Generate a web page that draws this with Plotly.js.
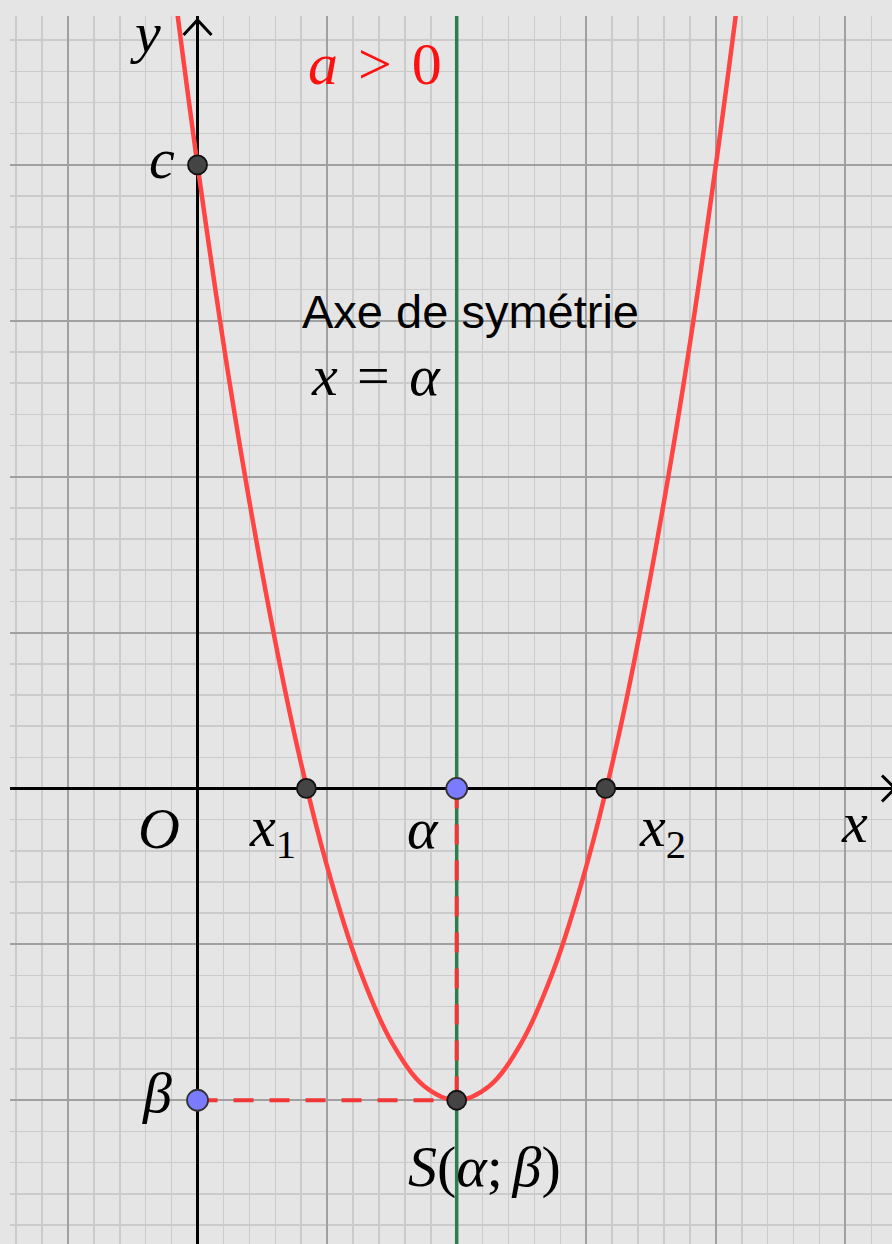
<!DOCTYPE html>
<html>
<head>
<meta charset="utf-8">
<script src="https://cdn.plot.ly/plotly-3.0.1.min.js"></script>
<style>
  html, body { margin: 0; padding: 0; background: #e5e5e5; }
  #graph { width: 892px; height: 1244px; }
</style>
</head>
<body>
<div id="graph"></div>
<script>
// Parabola points (a > 0, vertex S)
const curveX = [-0.2, 0, 0.25, 0.5, 0.75, 1, 1.25, 1.5, 1.75, 2, 2.25, 2.5, 2.75, 3, 3.25, 3.5, 3.75, 4, 4.2];
const curveY = [5.26, 4, 2.59, 1.38, 0.34, -0.5, -1.16, -1.63, -1.91, -2, -1.91, -1.63, -1.16, -0.5, 0.34, 1.38, 2.59, 4, 5.26];

// Key values
const alpha = 2;
const beta = -2;
const c = 4;
const roots = [0.84, 3.15];

// Visible window of the grid
const xRange = [-1.447, 5.359];
const yRange = [-2.922, 4.955];

const mathFont = { family: 'Liberation Serif, DejaVu Serif, serif', size: 58, color: '#000' };
const thin = '&#8202;';

const data = [
  // symmetry axis x = alpha
  {
    x: [alpha, alpha],
    y: yRange,
    mode: 'lines',
    line: { color: '#2e7d4f', width: 3.5 },
    hoverinfo: 'skip'
  },
  // dashed projections of S
  {
    x: [0, alpha, null, alpha, alpha],
    y: [beta, beta, null, 0, beta],
    mode: 'lines',
    line: { color: '#f03636', width: 4, dash: '20px,16px' },
    hoverinfo: 'skip'
  },
  // the parabola
  {
    x: curveX,
    y: curveY,
    mode: 'lines',
    line: { color: '#ff4444', width: 4.5, shape: 'spline', smoothing: 1 },
    hoverinfo: 'skip'
  },
  // dark points: c, x1, x2, S
  {
    x: [0, roots[0], roots[1], alpha],
    y: [c, 0, 0, beta],
    mode: 'markers',
    marker: { size: 19, color: '#444444', line: { color: '#111', width: 1.8 } },
    hoverinfo: 'skip'
  },
  // blue points: alpha on x axis, beta on y axis
  {
    x: [alpha, 0],
    y: [0, beta],
    mode: 'markers',
    marker: { size: 21, color: '#7b7bff', line: { color: '#333', width: 1.8 } },
    hoverinfo: 'skip'
  }
];

function label(text, x, y, xshift, yshift, extra) {
  return Object.assign({
    text: text, x: x, y: y, xref: 'x', yref: 'y',
    xshift: xshift, yshift: yshift, showarrow: false,
    font: mathFont, xanchor: 'center', yanchor: 'middle'
  }, extra || {});
}

const annotations = [
  label('<i>y</i>', 0, 1, -52, -16, { yref: 'paper' }),
  label('<i>c</i>', 0, c, -36, 6),
  label('<i>O</i>', 0, 0, -39, -40),
  label('<i>x</i><sub>1</sub>', roots[0], 0, -34, -42),
  label('<i>α</i>', alpha, 0, -34, -40),
  label('<i>x</i><sub>2</sub>', roots[1], 0, 57, -42),
  label('<i>x</i>', 1, 0, -38, -34, { xref: 'paper' }),
  label('<i>β</i>', 0, beta, -41, 8),
  label('<i>S</i>(<i>α</i>;' + thin + thin + '<i>β</i>)', alpha, beta, 28, -66),
  label('<i>a</i>' + thin + ' &gt; ' + thin + '0', alpha, 1, -82, -48,
    { yref: 'paper', font: Object.assign({}, mathFont, { color: '#ff1010', size: 60 }) }),
  label('Axe de symétrie', alpha, 1, -157, -295,
    { yref: 'paper', xanchor: 'left', font: { family: 'Liberation Sans, Arial, sans-serif', size: 47, color: '#000' } }),
  label('<i>x</i>' + thin + ' = ' + thin + '<i>α</i>', alpha, 1, -148, -359, { yref: 'paper', xanchor: 'left' })
];

// open arrow heads at the ends of the axes
const shapes = [
  {
    type: 'path', xref: 'x', xsizemode: 'pixel', xanchor: 0,
    yref: 'paper', ysizemode: 'pixel', yanchor: 1,
    path: 'M -14,-19 L 0,-4 L 14,-19',
    line: { color: '#000', width: 3 }
  },
  {
    type: 'path', xref: 'paper', xsizemode: 'pixel', xanchor: 1,
    yref: 'y', ysizemode: 'pixel', yanchor: 0,
    path: 'M -10,13 L 3,0 L -10,-13',
    line: { color: '#000', width: 3 }
  }
];

const axisBase = {
  showticklabels: false,
  ticks: '',
  showline: false,
  dtick: 1,
  tick0: 0,
  showgrid: true,
  gridcolor: '#a0a0a0',
  gridwidth: 2,
  zeroline: true,
  zerolinecolor: '#000',
  zerolinewidth: 3,
  minor: { dtick: 0.2, tick0: 0, showgrid: true, gridcolor: '#cbcbcb', gridwidth: 1.5, ticks: '' },
  fixedrange: true
};

const layout = {
  width: 892,
  height: 1244,
  margin: { l: 10, r: 0, t: 16, b: 0 },
  paper_bgcolor: '#e5e5e5',
  plot_bgcolor: '#e5e5e5',
  showlegend: false,
  xaxis: Object.assign({}, axisBase, { range: xRange }),
  yaxis: Object.assign({}, axisBase, { range: yRange }),
  annotations: annotations,
  shapes: shapes
};

Plotly.newPlot('graph', data, layout, { staticPlot: true });
</script>
</body>
</html>
